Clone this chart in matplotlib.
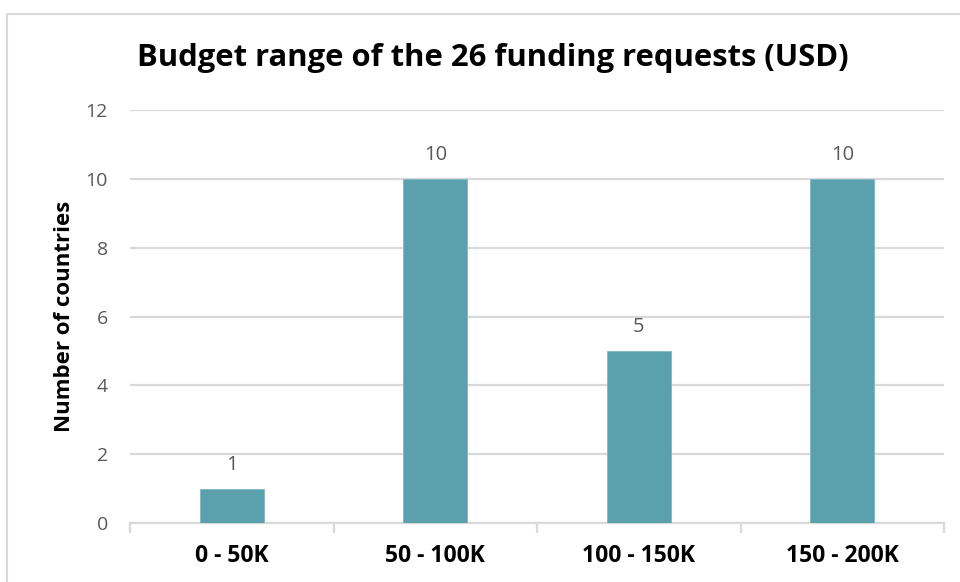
import matplotlib
matplotlib.use("Agg")
import matplotlib.pyplot as plt
from matplotlib.patches import Rectangle

categories = ["0 - 50K", "50 - 100K", "100 - 150K", "150 - 200K"]
counts = [1, 10, 5, 10]
yticks = [0, 2, 4, 6, 8, 10, 12]

plt.rcParams['font.family'] = ['Open Sans', 'DejaVu Sans']

fig = plt.figure(figsize=(9.6, 5.82), dpi=100)
W, H = 960, 582
ax = fig.add_axes([130 / W, 1 - 523 / H, (944 - 130) / W, (523 - 110) / H])

# frame of the chart area
fig.patches.append(Rectangle((7 / W, -0.1), 1.2, 1 - 14 / H + 0.1, transform=fig.transFigure,
                             fill=False, edgecolor='#D9D9D9', linewidth=1.5, zorder=0))

x = list(range(len(categories)))
ax.bar(x, counts, width=0.315, color='#5BA1AD', edgecolor='#7FB8C1', linewidth=0.6, zorder=3)
for xi, v in zip(x, counts):
    ax.text(xi, v + 0.4, str(v), ha='center', va='bottom', fontsize=14.5, color='#595959')

ax.set_xlim(-0.5, len(categories) - 0.5)
ax.set_ylim(0, 12)
ax.set_yticks(yticks)
ax.yaxis.grid(True, color='#D9D9D9', linewidth=1.6, zorder=0)
ax.set_axisbelow(True)

ax.set_xticks(x)
ax.set_xticklabels(categories, fontsize=16.5, fontweight='bold', color='black')
ax.tick_params(axis='x', length=0, pad=15)
# category boundary ticks
ax.set_xticks([i - 0.5 for i in range(len(categories) + 1)], minor=True)
ax.tick_params(axis='x', which='minor', length=7, color='#D9D9D9', width=1.6)
ax.tick_params(axis='y', length=0, labelsize=14, labelcolor='#595959', pad=16)

for s in ['top', 'right', 'left']:
    ax.spines[s].set_visible(False)
ax.spines['bottom'].set_color('#D9D9D9')
ax.spines['bottom'].set_linewidth(1.6)

fig.text(65 / W, 1 - 316 / H, "Number of countries", rotation=90,
         ha='center', va='center', fontsize=16, fontweight='bold')
fig.text(493 / W, 1 - 58 / H, "Budget range of the 26 funding requests (USD)",
         ha='center', va='center', fontsize=22.3, fontweight='bold')

fig.savefig("out.png", dpi=100)
